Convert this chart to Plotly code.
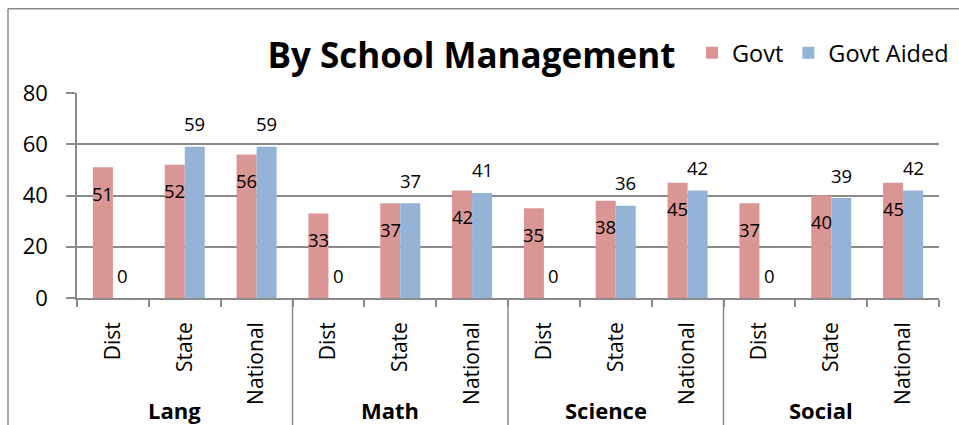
import plotly.graph_objects as go

# ---- data -------------------------------------------------------------
subjects = ["Lang", "Math", "Science", "Social"]
levels = ["Dist", "State", "National"]
govt = [51, 52, 56, 33, 37, 42, 35, 38, 45, 37, 40, 45]
govt_aided = [0, 59, 59, 0, 37, 41, 0, 36, 42, 0, 39, 42]
y_ticks = [0, 20, 40, 60, 80]

# ---- canvas geometry ----------------------------------------------------
FIG_W, FIG_H = 959, 425
M_L, M_R, M_T, M_B = 77, 20, 93.3, 126.7
PLOT_W = FIG_W - M_L - M_R
PLOT_H = FIG_H - M_T - M_B
BOTTOM = FIG_H - M_B


def paper_x(px):
    return (px - M_L) / PLOT_W


def paper_y(py):
    return (BOTTOM - py) / PLOT_H


FONT = "Open Sans"
GRID = "#8a8a8a"
C_GOVT = "#d99694"
C_AIDED = "#95b3d7"
BARGAP = 0.443
BAR_W = (1 - BARGAP) / 2

n_sub = len(levels)
positions = list(range(len(subjects) * n_sub))
tick_labels = [lv for _ in subjects for lv in levels]

fig = go.Figure()
fig.add_trace(go.Bar(x=positions, y=govt, name="Govt", marker_color=C_GOVT,
                     marker_line_width=0))
fig.add_trace(go.Bar(x=positions, y=govt_aided, name="Govt Aided",
                     marker_color=C_AIDED, marker_line_width=0))

annotations = []
# value labels: Govt inside near the top, Govt Aided above the bar
for i, (g, a) in enumerate(zip(govt, govt_aided)):
    annotations.append(dict(x=i - BAR_W / 2, y=g, xref="x", yref="y",
                            text=str(g), showarrow=False, yanchor="middle",
                            yshift=-26, font=dict(family=FONT, size=18.5, color="#000")))
    annotations.append(dict(x=i + BAR_W / 2, y=a, xref="x", yref="y",
                            text=str(a), showarrow=False, yanchor="middle",
                            yshift=23, font=dict(family=FONT, size=18.5, color="#000")))

# subject (outer category) labels
for k, s in enumerate(subjects):
    annotations.append(dict(x=k * n_sub + (n_sub - 1) / 2, y=paper_y(410),
                            xref="x", yref="paper", text=f"<b>{s}</b>",
                            showarrow=False, yanchor="middle", xshift=-10,
                            font=dict(family=FONT, size=22, color="#000")))

shapes = []
# separators between subject groups, running down through the label area
for k in range(1, len(subjects)):
    xb = k * n_sub - 0.5
    shapes.append(dict(type="line", xref="x", yref="paper", x0=xb, x1=xb,
                       y0=0, y1=paper_y(FIG_H + 2),
                       line=dict(color=GRID, width=1.5)))
# chart-area border (left and top edges)
shapes.append(dict(type="line", xref="paper", yref="paper",
                   x0=paper_x(8), x1=paper_x(8), y0=paper_y(9), y1=paper_y(FIG_H + 2),
                   line=dict(color=GRID, width=1.5)))
shapes.append(dict(type="line", xref="paper", yref="paper",
                   x0=paper_x(8), x1=paper_x(FIG_W + 2), y0=paper_y(9), y1=paper_y(9),
                   line=dict(color=GRID, width=1.5)))

boundaries = [p - 0.5 for p in positions] + [positions[-1] + 0.5]

fig.update_layout(
    width=FIG_W, height=FIG_H,
    margin=dict(l=M_L, r=M_R, t=M_T, b=M_B, pad=0, autoexpand=False),
    paper_bgcolor="white", plot_bgcolor="white",
    barmode="group", bargap=BARGAP, bargroupgap=0,
    title=dict(text="<b>By School Management</b>", x=471.5 / FIG_W, xanchor="center",
               y=1 - 56 / FIG_H, yanchor="middle", xref="container", yref="container",
               font=dict(family=FONT, size=35, color="#000")),
    legend=dict(orientation="h", xref="container", yref="container",
                x=954 / FIG_W, xanchor="right",
                y=1 - 53 / FIG_H, yanchor="middle",
                font=dict(family=FONT, size=23.5, color="#000"),
                bgcolor="rgba(0,0,0,0)", itemclick=False, traceorder="normal"),
    xaxis=dict(range=[-0.5, positions[-1] + 0.5], tickmode="array",
               tickvals=positions, ticktext=tick_labels, tickangle=-90,
               ticks="", ticklabelstandoff=14, showgrid=False, zeroline=False,
               showline=True, linecolor=GRID, linewidth=1.5,
               tickfont=dict(family=FONT, size=21, color="#000"),
               minor=dict(tickmode="array", tickvals=boundaries, ticks="outside",
                          ticklen=7, tickwidth=1.5, tickcolor=GRID, showgrid=False)),
    yaxis=dict(range=[0, 80], tickmode="array", tickvals=y_ticks,
               showgrid=True, gridcolor=GRID, gridwidth=1.5, zeroline=False,
               showline=True, linecolor=GRID, linewidth=1.5,
               ticks="outside", ticklen=9, tickwidth=1.5, tickcolor=GRID,
               ticklabelstandoff=14,
               tickfont=dict(family=FONT, size=22, color="#000")),
    annotations=annotations, shapes=shapes, showlegend=True,
)

fig.write_html("out.html")
